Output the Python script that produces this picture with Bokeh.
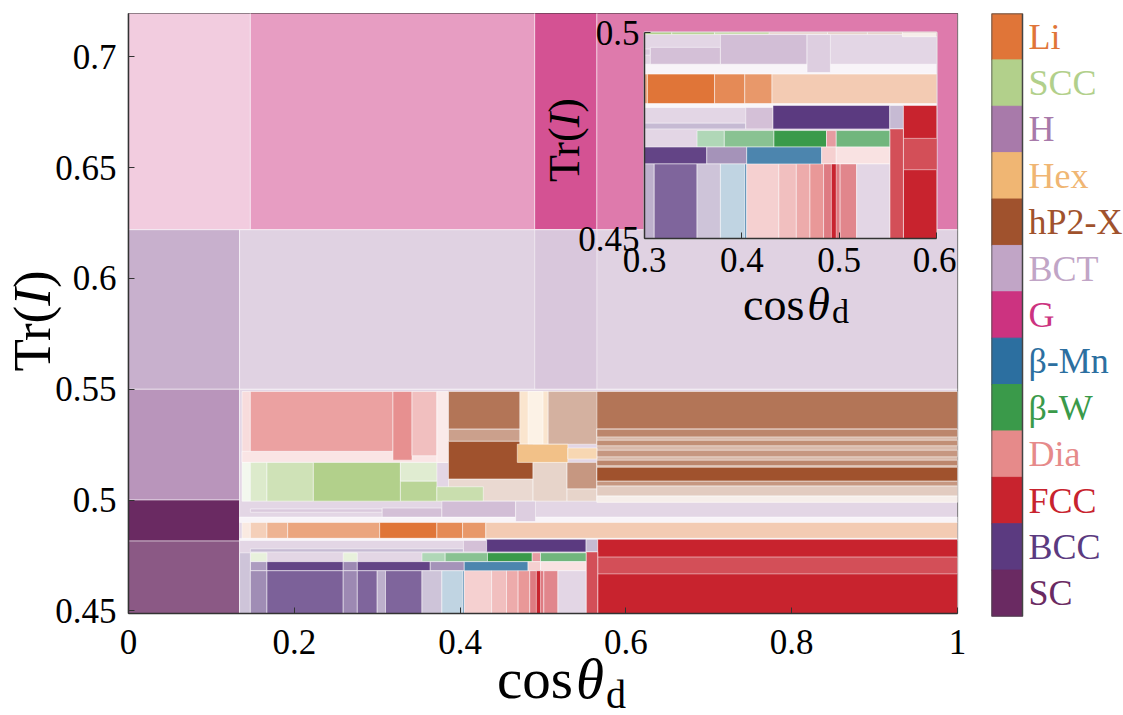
from bokeh.plotting import figure
from bokeh.models import ColumnDataSource, FixedTicker, Range1d, Div
from bokeh.layouts import row, column
from bokeh.embed import file_html
from bokeh.resources import INLINE
from bokeh.core.properties import value

# ---------------------------------------------------------------------------
# Phases and their colours
# ---------------------------------------------------------------------------
PHASES = ["Li", "SCC", "H", "Hex", "hP2-X", "BCT", "G",
          "β-Mn", "β-W", "Dia", "FCC", "BCC", "SC"]
PHASE_COLORS = ["#E07538", "#B2D08B", "#A87AAA", "#F0B673", "#A0522D",
                "#C1A5C6", "#CC3380", "#2C6FA0", "#3A9A4A", "#E68A8A",
                "#C8232E", "#5B3A80", "#6A2A62"]
COLOR_OF = dict(zip(PHASES, PHASE_COLORS))

# feature-space domain (cos theta_d, Tr(I))
COS_MIN, COS_MAX = 0.0, 1.0
TR_MIN, TR_MAX = 0.445, 0.725

# Leaves of the classifier: (cos_lo, cos_hi, tr_lo, tr_hi, phase, certainty)
upper_leaves = [
    (0.000, 0.147, 0.622, TR_MAX, "G", 0.25),
    (0.147, 0.490, 0.622, TR_MAX, "G", 0.48),
    (0.490, 0.565, 0.622, TR_MAX, "G", 0.85),
    (0.565, 1.000, 0.622, TR_MAX, "G", 0.65),
    (0.000, 0.134, 0.550, 0.622, "BCT", 0.88),
    (0.134, 1.000, 0.550, 0.622, "BCT", 0.50),
    (0.490, 0.565, 0.550, 0.622, "BCT", 0.62),
]

left_leaves = [
    (0.000, 0.134, 0.5000, 0.550, "H", 0.80),
    (0.000, 0.134, 0.4815, 0.500, "SC", 1.00),
    (0.000, 0.134, TR_MIN, 0.4815, "SC", 0.78),
    (0.134, 1.000, TR_MIN, 0.550, "BCT", 0.45),
    (0.137, 0.147, 0.517, 0.549, "Dia", 0.30),
]

dia_leaves = [
    (0.137, 0.386, 0.517, 0.522, "Dia", 0.22),
    (0.147, 0.319, 0.522, 0.549, "Dia", 0.80),
    (0.319, 0.342, 0.518, 0.549, "Dia", 0.95),
    (0.342, 0.372, 0.520, 0.549, "Dia", 0.55),
    (0.372, 0.386, 0.517, 0.549, "Dia", 0.18),
]

hp2_leaves = [
    (0.386, 1.000, 0.5320, 0.549, "hP2-X", 0.80),
    (0.386, 0.565, 0.5265, 0.532, "hP2-X", 0.55),
    (0.386, 0.488, 0.5094, 0.5265, "hP2-X", 1.00),
    (0.386, 0.488, 0.4995, 0.5094, "hP2-X", 0.22),
    (0.506, 0.565, 0.5252, 0.549, "hP2-X", 0.45),
    (0.488, 0.529, 0.4995, 0.517, "hP2-X", 0.25),
    (0.529, 0.565, 0.5050, 0.517, "hP2-X", 0.60),
    (0.529, 0.565, 0.4995, 0.505, "hP2-X", 0.25),
    (0.565, 1.000, 0.4990, 0.532, "hP2-X", 0.40),
    (0.565, 1.000, 0.5285, 0.532, "hP2-X", 0.70),
    (0.565, 1.000, 0.5245, 0.527, "hP2-X", 0.65),
    (0.565, 1.000, 0.5195, 0.5225, "hP2-X", 0.60),
    (0.565, 1.000, 0.5155, 0.518, "hP2-X", 0.70),
    (0.565, 1.000, 0.5085, 0.5148, "hP2-X", 1.00),
    (0.565, 1.000, 0.5063, 0.5085, "hP2-X", 0.60),
    (0.565, 1.000, 0.5018, 0.5063, "hP2-X", 0.30),
    (0.565, 1.000, 0.4990, 0.5018, "hP2-X", 0.10),
]

hex_leaves = [
    (0.472, 0.506, 0.5252, 0.549, "Hex", 0.35),
    (0.482, 0.500, 0.5252, 0.549, "Hex", 0.18),
    (0.469, 0.530, 0.5170, 0.5252, "Hex", 0.85),
    (0.530, 0.565, 0.5185, 0.5235, "Hex", 0.55),
]

scc_leaves = [
    (0.137, 0.147, 0.4995, 0.517, "SCC", 0.15),
    (0.147, 0.167, 0.4995, 0.517, "SCC", 0.45),
    (0.167, 0.223, 0.4995, 0.517, "SCC", 0.62),
    (0.223, 0.328, 0.4995, 0.517, "SCC", 1.00),
    (0.328, 0.372, 0.5085, 0.517, "SCC", 0.40),
    (0.328, 0.372, 0.4995, 0.5085, "SCC", 0.90),
    (0.372, 0.428, 0.4995, 0.506, "SCC", 0.70),
]

bct_leaves = [
    (0.134, 1.000, 0.4899, 0.4923, "BCT", 0.12),
    (0.147, 0.306, 0.4945, 0.4960, "BCT", 0.60),
    (0.306, 0.378, 0.4923, 0.4964, "BCT", 0.70),
    (0.378, 0.467, 0.4923, 0.4995, "BCT", 0.72),
    (0.467, 0.491, 0.4903, 0.4995, "BCT", 0.55),
]

li_leaves = [
    (0.137, 0.147, 0.4827, 0.4899, "Li", 0.15),
    (0.147, 0.167, 0.4827, 0.4899, "Li", 0.35),
    (0.167, 0.192, 0.4827, 0.4899, "Li", 0.55),
    (0.192, 0.303, 0.4827, 0.4899, "Li", 0.65),
    (0.303, 0.372, 0.4827, 0.4899, "Li", 1.00),
    (0.372, 0.403, 0.4827, 0.4899, "Li", 0.85),
    (0.403, 0.431, 0.4827, 0.4899, "Li", 0.75),
    (0.431, 1.000, 0.4827, 0.4899, "Li", 0.38),
    (0.134, 1.000, 0.4818, 0.4827, "BCT", 0.10),
]

bcc_leaves = [
    (0.147, 0.404, 0.4766, 0.4780, "BCC", 0.35),
    (0.404, 0.432, 0.4766, 0.4818, "BCT", 0.70),
    (0.432, 0.552, 0.4766, 0.4823, "BCC", 1.00),
    (0.552, 0.566, 0.4766, 0.4823, "BCC", 0.35),
    (0.566, 1.000, TR_MIN, 0.4823, "FCC", 1.00),
    (0.566, 1.000, 0.4667, 0.4743, "FCC", 0.80),
    (0.552, 0.566, TR_MIN, 0.4766, "FCC", 0.80),
]

betaw_leaves = [
    (0.147, 0.167, 0.4722, 0.4762, "SCC", 0.30),
    (0.259, 0.276, 0.4722, 0.4762, "SCC", 0.30),
    (0.354, 0.382, 0.4722, 0.4762, "β-W", 0.40),
    (0.382, 0.433, 0.4722, 0.4762, "β-W", 0.60),
    (0.433, 0.487, 0.4722, 0.4762, "β-W", 1.00),
    (0.487, 0.497, 0.4722, 0.4762, "FCC", 0.45),
    (0.497, 0.552, 0.4722, 0.4762, "β-W", 0.72),
]

betamn_leaves = [
    (0.147, 0.167, 0.4681, 0.4722, "BCC", 0.50),
    (0.167, 0.259, 0.4681, 0.4722, "BCC", 0.95),
    (0.259, 0.276, 0.4681, 0.4722, "BCC", 0.60),
    (0.276, 0.364, 0.4681, 0.4722, "BCC", 0.95),
    (0.364, 0.405, 0.4681, 0.4722, "BCC", 0.55),
    (0.405, 0.482, 0.4678, 0.4722, "β-Mn", 0.85),
    (0.482, 0.497, 0.4681, 0.4722, "Dia", 0.40),
    (0.497, 0.552, 0.4681, 0.4722, "Dia", 0.25),
]

bottom_leaves = [
    (0.134, 0.147, TR_MIN, 0.4762, "BCC", 0.30),
    (0.147, 0.167, TR_MIN, 0.4681, "BCC", 0.58),
    (0.167, 0.259, TR_MIN, 0.4681, "BCC", 0.80),
    (0.259, 0.276, TR_MIN, 0.4681, "BCC", 0.60),
    (0.276, 0.300, TR_MIN, 0.4681, "BCC", 0.78),
    (0.300, 0.310, TR_MIN, 0.4681, "BCC", 0.40),
    (0.310, 0.354, TR_MIN, 0.4681, "BCC", 0.78),
    (0.354, 0.378, TR_MIN, 0.4681, "BCC", 0.30),
    (0.378, 0.403, TR_MIN, 0.4681, "β-Mn", 0.30),
    (0.403, 0.405, TR_MIN, 0.4681, "β-Mn", 0.80),
    (0.405, 0.438, TR_MIN, 0.4681, "Dia", 0.40),
    (0.438, 0.456, TR_MIN, 0.4681, "Dia", 0.55),
    (0.456, 0.470, TR_MIN, 0.4681, "Dia", 0.72),
    (0.470, 0.484, TR_MIN, 0.4681, "Dia", 0.88),
    (0.484, 0.501, TR_MIN, 0.4681, "FCC", 0.60),
    (0.492, 0.497, TR_MIN, 0.4681, "FCC", 1.00),
    (0.501, 0.518, TR_MIN, 0.4681, "FCC", 0.55),
    (0.518, 0.552, TR_MIN, 0.4681, "BCT", 0.45),
]

X_TICKS = [0, 0.2, 0.4, 0.6, 0.8, 1]
X_TICK_LABELS = ["0", "0.2", "0.4", "0.6", "0.8", "1"]
Y_TICKS = [0.45, 0.5, 0.55, 0.6, 0.65, 0.7]
Y_TICK_LABELS = ["0.45", "0.5", "0.55", "0.6", "0.65", "0.7"]
INSET_X_TICKS = [0.3, 0.4, 0.5, 0.6]
INSET_X_TICK_LABELS = ["0.3", "0.4", "0.5", "0.6"]
INSET_Y_TICKS = [0.45, 0.5]
INSET_Y_TICK_LABELS = ["0.45", "0.5"]

# ---------------------------------------------------------------------------
SERIF = "Liberation Serif"


def blend(hex_color, certainty):
    """Phase colour faded towards white by the leaf's certainty."""
    r, g, b = (int(hex_color[i:i + 2], 16) for i in (1, 3, 5))
    mix = lambda c: round(255 - certainty * (255 - c))
    return "#{:02x}{:02x}{:02x}".format(mix(r), mix(g), mix(b))


all_leaves = (upper_leaves + left_leaves + dia_leaves + hp2_leaves + hex_leaves
              + scc_leaves + bct_leaves + li_leaves + bcc_leaves + betaw_leaves
              + betamn_leaves + bottom_leaves)

leaf_data = dict(
    left=[l[0] for l in all_leaves],
    right=[l[1] for l in all_leaves],
    bottom=[l[2] for l in all_leaves],
    top=[l[3] for l in all_leaves],
    phase=[l[4] for l in all_leaves],
    color=[blend(COLOR_OF[l[4]], l[5]) for l in all_leaves],
)


def draw_leaves(fig):
    fig.quad(left="left", right="right", bottom="bottom", top="top",
             source=ColumnDataSource(leaf_data), fill_color="color",
             line_color="white", line_alpha=0.5, line_width=1)


def style_axes(fig, xt, xl, yt, yl, font_size, xstand, ystand):
    fig.xaxis.ticker = FixedTicker(ticks=xt)
    fig.yaxis.ticker = FixedTicker(ticks=yt)
    fig.xaxis.major_label_overrides = {t: s for t, s in zip(xt, xl)}
    fig.yaxis.major_label_overrides = {t: s for t, s in zip(yt, yl)}
    fig.xaxis.major_label_standoff = xstand
    fig.yaxis.major_label_standoff = ystand
    for ax in (fig.xaxis, fig.yaxis):
        ax.major_label_text_font = SERIF
        ax.major_label_text_font_size = font_size
        ax.major_label_text_color = "black"
        ax.axis_line_color = "#333333"
        ax.axis_line_width = 1.5
        ax.major_tick_line_color = "#333333"
        ax.major_tick_in = 6
        ax.major_tick_out = 0
        ax.minor_tick_line_color = None
    fig.grid.visible = False


def cos_title(left, top, size, sub_size, sub_drop):
    html = (f"<div style=\"font-family:'{SERIF}';font-size:{size}px;"
            f"line-height:{size}px;white-space:nowrap;color:#000\">"
            f"cos<i style=\"margin-left:3px\">θ</i>"
            f"<span style=\"font-size:{sub_size}px;vertical-align:-{sub_drop}px;"
            f"margin-left:2px\">d</span></div>")
    return Div(text=html, width=int(size * 3.2), height=int(size * 1.3),
               styles={"position": "absolute", "left": f"{left}px", "top": f"{top}px"})


def tr_title(cx, cy, size, w, h):
    html = (f"<div style=\"font-family:'{SERIF}';font-size:{size}px;"
            f"line-height:{h}px;width:{w}px;height:{h}px;text-align:center;"
            f"white-space:nowrap;color:#000;transform:rotate(-90deg);"
            f"transform-origin:50% 50%\">Tr(<i>I</i>)</div>")
    return Div(text=html, width=w, height=h,
               styles={"position": "absolute", "left": f"{cx - w // 2}px",
                       "top": f"{cy - h // 2}px"})


# ---------------------------------------------------------------------------
# Main panel
p = figure(frame_width=829, frame_height=600,
           x_range=Range1d(COS_MIN, COS_MAX), y_range=Range1d(0.4488, 0.7196),
           min_border_left=128, min_border_right=10, min_border_top=13,
           min_border_bottom=102, output_backend="svg", toolbar_location=None)
p.outline_line_color = "#333333"
p.outline_line_width = 1.2
draw_leaves(p)
style_axes(p, X_TICKS, X_TICK_LABELS, Y_TICKS, Y_TICK_LABELS, "35px", 16, 12)

# Inset: zoom on the low-Tr(I) region
pi = figure(frame_width=292, frame_height=206,
            x_range=Range1d(0.3, 0.6), y_range=Range1d(0.45, 0.5),
            min_border_left=100, min_border_right=20, min_border_top=25,
            min_border_bottom=92, output_backend="svg", toolbar_location=None)
pi.border_fill_color = None
pi.background_fill_color = "white"
pi.outline_line_color = "#e6e6e6"
pi.outline_line_width = 2
draw_leaves(pi)
style_axes(pi, INSET_X_TICKS, INSET_X_TICK_LABELS, INSET_Y_TICKS, INSET_Y_TICK_LABELS,
           "35px", 9, 5)
pi.styles = {"position": "absolute", "left": "544px", "top": "7px"}

# Phase colour key
key_idx = list(range(len(PHASES)))
key_src = ColumnDataSource(dict(
    phase=PHASES,
    color=PHASE_COLORS,
    bottom=[len(PHASES) - 1 - i for i in key_idx],
    top=[len(PHASES) - i for i in key_idx],
    mid=[len(PHASES) - 0.5 - i for i in key_idx],
))
pl = figure(frame_width=132, frame_height=603, x_range=Range1d(0, 132),
            y_range=Range1d(0, len(PHASES)), min_border_left=24, min_border_right=0,
            min_border_top=12, min_border_bottom=100, x_axis_location=None,
            y_axis_location=None, output_backend="svg", toolbar_location=None)
pl.outline_line_color = None
pl.grid.visible = False
pl.quad(left=0, right=31, bottom="bottom", top="top", fill_color="color",
        line_color="color", source=key_src)
pl.quad(left=0, right=31, bottom=0, top=len(PHASES), fill_color=None,
        line_color="#444444", line_width=1.5)
pl.text(x=37, y="mid", text="phase", text_color="color", source=key_src,
        text_font=value(SERIF), text_font_size="36px", text_baseline="middle")

# Axis titles
titles = [
    cos_title(492, 645, 57, 40, 10),
    tr_title(27, 316, 53, 130, 60),
    cos_title(738, 277, 46, 34, 3),
    tr_title(560, 135, 44, 110, 50),
]

layout = column(row(p, pl), pi, *titles)

open("out.html", "w").write(file_html(layout, INLINE))
